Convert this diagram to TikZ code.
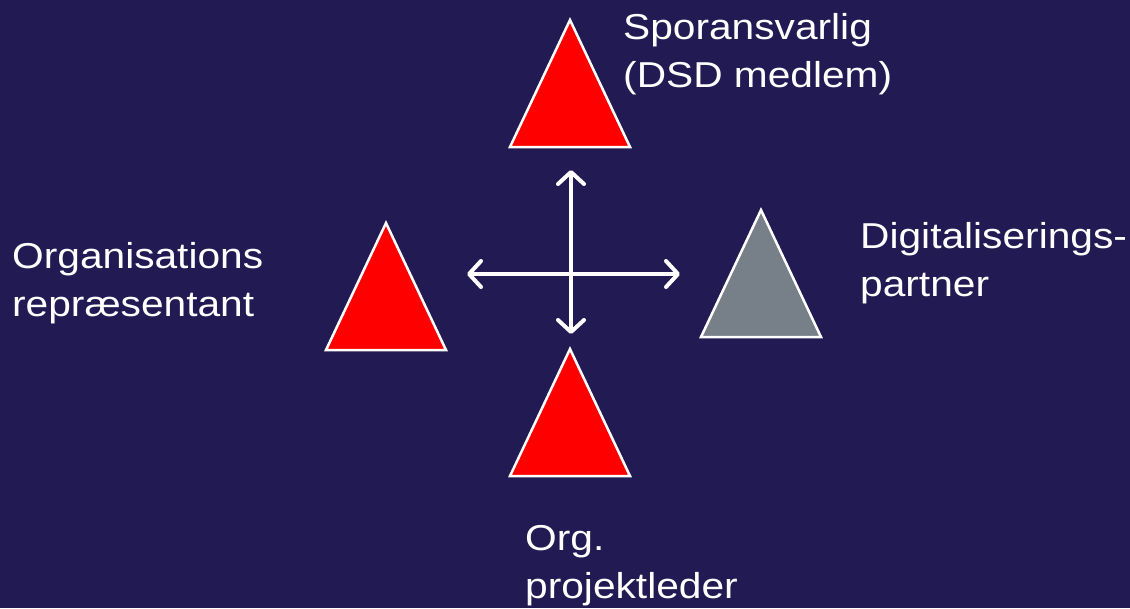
\documentclass[tikz,border=0pt]{standalone}
\usepackage{fontspec}
\setmainfont{Liberation Sans}[FakeStretch=1.13]
\usetikzlibrary{arrows.meta}
\definecolor{bgnavy}{HTML}{221A52}
\definecolor{trired}{HTML}{FF0000}
\definecolor{trigray}{HTML}{778089}

\begin{document}
\begin{tikzpicture}[x=1pt, y=-1pt,
    tri/.style={draw=white, line width=2.5pt, line join=miter},
    label/.style={anchor=base west, align=left, inner sep=0pt, text=white,
        font=\fontsize{36}{48}\selectfont},
    link/.style={draw=white, line width=4pt,
        {Straight Barb[length=12pt,width=26pt,round]}-{Straight Barb[length=12pt,width=26pt,round]}}]
    \fill[bgnavy] (0,0) rectangle (1130,608);
    \useasboundingbox (0,0) rectangle (1130,608);

    % triangles
    \coordinate (top) at (570,20);
    \coordinate (left) at (386,223);
    \coordinate (right) at (761,210);
    \coordinate (bottom) at (570,349);
    \filldraw[tri, fill=trired] (top) -- ++(60,127) -- ++(-120,0) -- cycle;
    \filldraw[tri, fill=trired] (left) -- ++(60,127) -- ++(-120,0) -- cycle;
    \filldraw[tri, fill=trigray] (right) -- ++(60,127) -- ++(-120,0) -- cycle;
    \filldraw[tri, fill=trired] (bottom) -- ++(60,127) -- ++(-120,0) -- cycle;

    % arrows
    \coordinate (up) at (571,170);
    \coordinate (down) at (571,334);
    \coordinate (west) at (467,274);
    \coordinate (east) at (680,274);
    \draw[link] (up) -- (down);
    \draw[link] (west) -- (east);

    % labels (base = baseline of the last line)
    \node[label] (sporansvarlig) at (623,87) {Sporansvarlig\\(DSD medlem)};
    \node[label] (organisation) at (12,316) {Organisations\\repræsentant};
    \node[label] (partner) at (860,296) {Digitaliserings-\\partner};
    \node[label] (projektleder) at (525,598) {Org.\\projektleder};
\end{tikzpicture}
\end{document}
